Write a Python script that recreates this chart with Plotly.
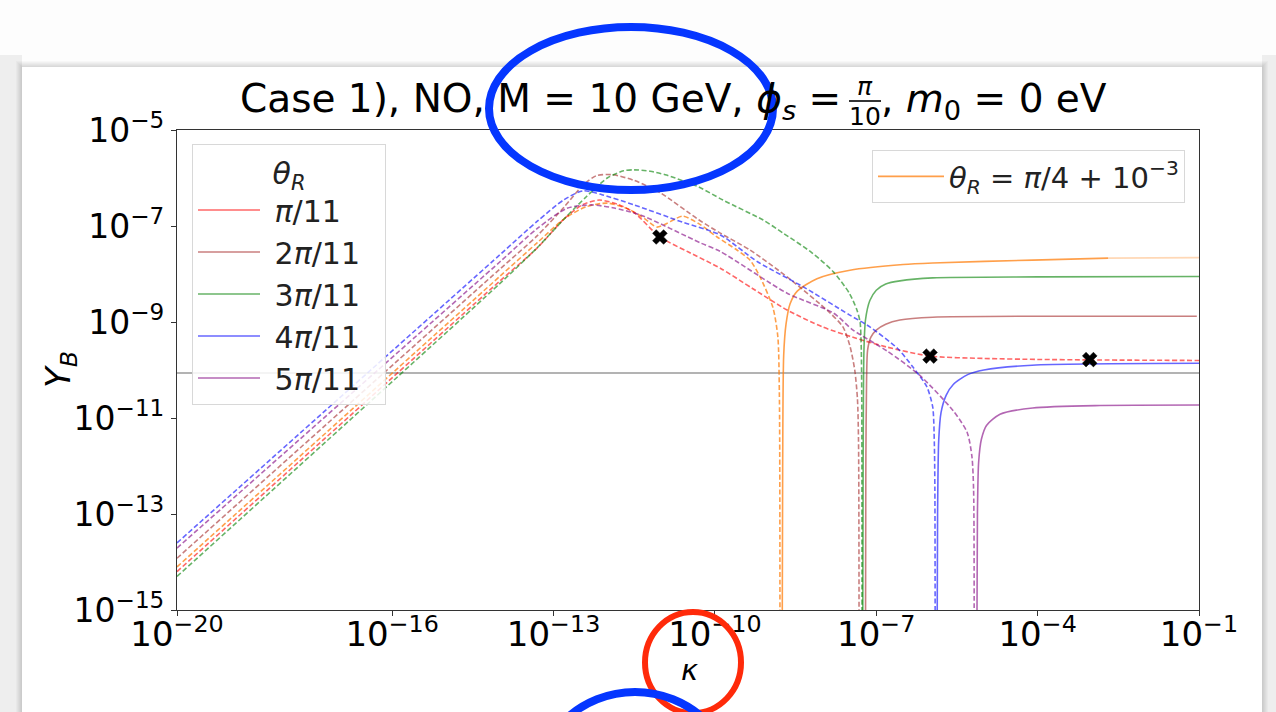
import plotly.graph_objects as go

# ---------------- data ----------------
NB = "\u00a0"
theta_labels = ["<i>π</i>/11", "2<i>π</i>/11", "3<i>π</i>/11", "4<i>π</i>/11", "5<i>π</i>/11"]
orange_label = "<i>θ</i><sub><i>R</i></sub> = <i>π</i>/4 + 10<sup>−3</sup>"

red_dash_k = [1e-20, 1e-14, 5.0e-14, 1.58e-13, 3.55e-13, 7.1e-13, 1.58e-12, 3.16e-12, 9.5e-12,
              3.16e-11, 1.26e-10, 5.0e-10, 2.2e-9, 1e-8, 3.7e-8, 1.58e-7, 1e-6, 1e-5, 1e-4, 1e-3, 0.1]
red_dash_y = [6.3e-15, 7.1e-9, 3.5e-8, 1.41e-7, 2.82e-7, 3.47e-7, 2.82e-7, 1.9e-7, 5.9e-8,
              2.9e-8, 1.32e-8, 5.0e-9, 1.78e-9, 7.9e-10, 4.8e-10, 3.0e-10, 1.95e-10, 1.74e-10, 1.66e-10, 1.62e-10, 1.58e-10]

brown_dash_k = [1e-20, 1e-14, 5.0e-14, 1.58e-13, 3.55e-13, 6.3e-13, 1.26e-12, 3.16e-12, 1e-11, 5.0e-11,
                1.26e-10, 4.5e-10, 2.2e-9, 1.38e-8, 2.4e-8, 3.24e-8, 3.98e-8, 4.47e-8, 4.68e-8, 4.79e-8]
brown_dash_y = [1.2e-14, 1.26e-8, 6.3e-8, 2.5e-7, 7.1e-7, 1.12e-6, 1.17e-6, 8.9e-7, 4.8e-7, 1.35e-7,
                7.1e-8, 3.16e-8, 8.7e-9, 1.55e-9, 7.9e-10, 3.16e-10, 1e-10, 2.5e-11, 3.16e-12, 1e-16]
brown_solid_k = [6.3e-8, 6.4e-8, 6.6e-8, 6.9e-8, 7.9e-8, 1.0e-7, 1.5e-7, 2.75e-7, 1.12e-6, 1e-4, 0.091]
brown_solid_y = [1e-16, 1e-12, 6.0e-11, 2.6e-10, 4.8e-10, 6.8e-10, 9.0e-10, 1.1e-9, 1.26e-9, 1.32e-9, 1.32e-9]

green_dash_k = [1e-20, 1e-14, 5.0e-14, 1.58e-13, 3.98e-13, 1e-12, 2.0e-12, 3.16e-12, 6.3e-12, 1.26e-11,
                5.0e-11, 1.41e-10, 7.9e-10, 1.86e-9, 6.3e-9, 1.58e-8, 3.16e-8, 4.37e-8, 5.0e-8, 5.25e-8,
                5.37e-8, 5.43e-8]
green_dash_y = [5.0e-15, 6.3e-9, 3.55e-8, 1.41e-7, 3.98e-7, 1e-6, 1.41e-6, 1.48e-6, 1.38e-6, 1.15e-6,
                6.5e-7, 3.47e-7, 1.33e-7, 7.1e-8, 2.8e-8, 1.12e-8, 3.98e-9, 1.78e-9, 1e-9, 3.16e-10,
                3.16e-11, 1e-16]
green_solid_k = [5.6e-8, 5.7e-8, 5.9e-8, 6.3e-8, 7.6e-8, 1.0e-7, 1.5e-7, 2.75e-7, 1.12e-6, 1e-4, 0.1]
green_solid_y = [1e-16, 1e-12, 2.5e-10, 1.1e-9, 2.8e-9, 4.6e-9, 6.2e-9, 7.2e-9, 8.3e-9, 8.7e-9, 8.9e-9]

blue_dash_k = [1e-20, 1e-14, 5.0e-14, 1.58e-13, 3.55e-13, 7.9e-13, 3.16e-12, 2.5e-11, 1.26e-10, 6.3e-10,
               4.4e-9, 3.16e-8, 7.6e-8, 2.5e-7, 4.8e-7, 8.7e-7, 1.12e-6, 1.2e-6, 1.23e-6, 1.245e-6]
blue_dash_y = [2.5e-14, 2.5e-8, 1.26e-7, 3.55e-7, 5.4e-7, 4.5e-7, 2.75e-7, 1.2e-7, 6.5e-8, 1.78e-8,
               5.4e-9, 1.41e-9, 7.9e-10, 2.8e-10, 1.15e-10, 4.5e-11, 1.7e-11, 3.16e-12, 3.16e-13, 1e-16]
blue_solid_k = [1.35e-6, 1.38e-6, 1.45e-6, 1.6e-6, 2.0e-6, 2.7e-6, 5.0e-6, 1e-5, 7.9e-5, 0.1]
blue_solid_y = [1e-16, 1e-13, 3.5e-12, 1.3e-11, 3.0e-11, 5.0e-11, 8.0e-11, 1.0e-10, 1.26e-10, 1.38e-10]

purple_dash_k = [1e-20, 1e-14, 5.0e-14, 1.78e-13, 5.0e-13, 1.26e-12, 4.1e-12, 5.25e-11, 1.26e-10, 2.2e-9,
                 1.58e-8, 3.7e-8, 1.58e-7, 6.3e-7, 2.7e-6, 4.9e-6, 6.0e-6, 6.45e-6, 6.6e-6]
purple_dash_y = [1.95e-14, 1.78e-8, 8.9e-8, 2.34e-7, 2.75e-7, 2.4e-7, 1.7e-7, 4.5e-8, 2.95e-8, 3.98e-9,
                 1.55e-9, 6.8e-10, 2.5e-10, 7.9e-11, 1.41e-11, 5.0e-12, 1.58e-12, 3.16e-13, 1e-16]
purple_solid_k = [7.4e-6, 7.6e-6, 8.0e-6, 9.0e-6, 1.12e-5, 2.0e-5, 8.1e-5, 1.45e-3, 0.1]
purple_solid_y = [1e-16, 1e-13, 1.2e-12, 3.6e-12, 7.0e-12, 1.2e-11, 1.62e-11, 1.82e-11, 1.86e-11]

orange_dash_k = [1e-20, 1e-14, 5.0e-14, 1.58e-13, 3.98e-13, 1e-12, 2.5e-12, 5.0e-12, 8.3e-12, 1.26e-11,
                 2.5e-11, 5.0e-11, 1.1e-10, 2.57e-10, 4.5e-10, 6.9e-10, 1.2e-9, 1.48e-9, 1.58e-9, 1.62e-9]
orange_dash_y = [7.9e-15, 8.9e-9, 4.5e-8, 1.41e-7, 2.5e-7, 3.0e-7, 2.24e-7, 1.41e-7, 9.5e-8, 1.12e-7,
                 1.6e-7, 1.12e-7, 5.9e-8, 3.16e-8, 1.95e-8, 8.7e-9, 2.0e-9, 4.9e-10, 3.16e-11, 1e-16]
orange_solid_k = [1.78e-9, 1.82e-9, 1.9e-9, 2.1e-9, 2.5e-9, 3.4e-9, 7.9e-9, 3.24e-8, 3.16e-7, 1.12e-6, 8.1e-5, 2.04e-3]
orange_solid_y = [1e-16, 1e-12, 2.0e-10, 9.0e-10, 2.4e-9, 4.4e-9, 8.0e-9, 1.2e-8, 1.58e-8, 1.7e-8, 1.95e-8, 2.14e-8]
orange_tail_k = [2.04e-3, 0.1]
orange_tail_y = [2.14e-8, 2.19e-8]

marker_k = [9.5e-12, 1e-6, 9.3e-4]
marker_y = [5.9e-8, 1.95e-10, 1.65e-10]

Y_B_obs = 8.7e-11

x_tick_vals = [1e-20, 1e-16, 1e-13, 1e-10, 1e-7, 1e-4, 1e-1]
x_tick_text = ["10<sup>−20</sup>", "10<sup>−16</sup>", "10<sup>−13</sup>", "10<sup>−10</sup>",
               "10<sup>−7</sup>", "10<sup>−4</sup>", "10<sup>−1</sup>"]
y_tick_vals = [1e-15, 1e-13, 1e-11, 1e-9, 1e-7, 1e-5]
y_tick_text = ["10<sup>−15</sup>", "10<sup>−13</sup>", "10<sup>−11</sup>", "10<sup>−9</sup>",
               "10<sup>−7</sup>", "10<sup>−5</sup>"]

# ---------------- styling ----------------
W, H = 1276, 712
L, R, T, B = 177, 77, 130, 102
PW, PH = W - L - R, H - T - B
FONT = "DejaVu Sans"


def px(x):
    return (x - L) / PW


def py(y):
    return (H - B - y) / PH


dash_pat = "5px,2.5px"
cols = {
    "red": "rgba(255,0,0,0.6)",
    "brown": "rgba(165,42,42,0.6)",
    "green": "rgba(0,128,0,0.6)",
    "blue": "rgba(0,0,255,0.6)",
    "purple": "rgba(128,0,128,0.6)",
    "orange": "rgba(255,127,14,0.75)",
}
SM = 0.7

fig = go.Figure()

series = [
    ("red", red_dash_k, red_dash_y, None, None, theta_labels[0]),
    ("brown", brown_dash_k, brown_dash_y, brown_solid_k, brown_solid_y, theta_labels[1]),
    ("green", green_dash_k, green_dash_y, green_solid_k, green_solid_y, theta_labels[2]),
    ("blue", blue_dash_k, blue_dash_y, blue_solid_k, blue_solid_y, theta_labels[3]),
    ("purple", purple_dash_k, purple_dash_y, purple_solid_k, purple_solid_y, theta_labels[4]),
]

fig.add_trace(go.Scatter(x=orange_dash_k, y=orange_dash_y, mode="lines",
                         line=dict(color=cols["orange"], width=1.6, dash=dash_pat, shape="spline", smoothing=SM),
                         showlegend=False, hoverinfo="skip"))
fig.add_trace(go.Scatter(x=orange_solid_k, y=orange_solid_y, mode="lines", name=orange_label,
                         line=dict(color=cols["orange"], width=1.6, shape="spline", smoothing=SM),
                         legend="legend2"))
fig.add_trace(go.Scatter(x=orange_tail_k, y=orange_tail_y, mode="lines",
                         line=dict(color="rgba(255,127,14,0.3)", width=1.6),
                         showlegend=False, hoverinfo="skip"))

for cname, dk, dy, sk, sy, lab in series:
    fig.add_trace(go.Scatter(x=dk, y=dy, mode="lines", legendgroup=cname,
                             line=dict(color=cols[cname], width=1.6, dash=dash_pat, shape="spline", smoothing=SM),
                             showlegend=False))
    if sk is not None:
        fig.add_trace(go.Scatter(x=sk, y=sy, mode="lines", legendgroup=cname,
                                 line=dict(color=cols[cname], width=1.6, shape="spline", smoothing=SM),
                                 showlegend=False))
    fig.add_trace(go.Scatter(x=[None], y=[None], mode="lines", name=NB + lab + NB * 2, legendgroup=cname,
                             line=dict(color=cols[cname], width=1.6), legend="legend"))

fig.add_trace(go.Scatter(x=marker_k, y=marker_y, mode="markers",
                         marker=dict(symbol="x", size=13, color="black",
                                     line=dict(color="black", width=0.5)),
                         showlegend=False))

shapes = []
# page shadow + card
shapes.append(dict(type="rect", xref="paper", yref="paper", x0=px(-5), x1=px(22), y0=py(720), y1=py(55),
                   fillcolor="#eeeeee", line=dict(width=0), layer="below"))
shapes.append(dict(type="rect", xref="paper", yref="paper", x0=px(1262), x1=px(1285), y0=py(720), y1=py(55),
                   fillcolor="#eeeeee", line=dict(width=0), layer="below"))
for i in range(6):
    d = 6 - i
    shapes.append(dict(type="rect", xref="paper", yref="paper",
                       x0=px(22 - d), x1=px(1262 + d), y0=py(740), y1=py(67 - d),
                       fillcolor="rgba(0,0,0,0.025)", line=dict(width=0), layer="below"))
shapes.append(dict(type="rect", xref="paper", yref="paper", x0=px(22), x1=px(1262), y0=py(740), y1=py(67),
                   fillcolor="white", line=dict(width=0), layer="below"))
shapes.append(dict(type="line", xref="paper", yref="y", x0=0, x1=1, y0=Y_B_obs, y1=Y_B_obs,
                   line=dict(color="rgba(128,128,128,0.6)", width=2), layer="below"))
# hand-drawn ellipses
shapes.append(dict(type="circle", xref="paper", yref="paper", x0=px(489), x1=px(773), y0=py(190), y1=py(27),
                   line=dict(color="#0536ff", width=8), layer="above"))
shapes.append(dict(type="circle", xref="paper", yref="paper", x0=px(645), x1=px(741), y0=py(713), y1=py(612),
                   line=dict(color="#ff2a0a", width=6), layer="above"))
shapes.append(dict(type="circle", xref="paper", yref="paper", x0=px(532), x1=px(738), y0=py(900), y1=py(692),
                   line=dict(color="#0536ff", width=8), layer="above"))
shapes.append(dict(type="line", xref="paper", yref="paper", x0=px(849), x1=px(881), y0=py(101), y1=py(101),
                   line=dict(color="black", width=1.6), layer="above"))

annotations = [
    dict(text="Case 1), NO, M = 10 GeV, <i>ϕ</i><sub><i>s</i></sub> =", x=px(843), y=py(101),
         xref="paper", yref="paper", xanchor="right", yanchor="middle", showarrow=False,
         font=dict(family=FONT, size=39, color="black")),
    dict(text="<i>π</i>", x=px(865), y=py(86), xref="paper", yref="paper", xanchor="center",
         yanchor="middle", showarrow=False, font=dict(family=FONT, size=25, color="black")),
    dict(text="10", x=px(865), y=py(116), xref="paper", yref="paper", xanchor="center",
         yanchor="middle", showarrow=False, font=dict(family=FONT, size=25, color="black")),
    dict(text=", <i>m</i><sub>0</sub> = 0 eV", x=px(879), y=py(101),
         xref="paper", yref="paper", xanchor="left", yanchor="middle", showarrow=False,
         font=dict(family=FONT, size=39, color="black")),
    dict(text="<i>Y</i><sub><i>B</i></sub>", x=px(60), y=py(370), xref="paper", yref="paper",
         xanchor="center", yanchor="middle",
         textangle=-90, showarrow=False, font=dict(family=FONT, size=34, color="black")),
    dict(text="<i>κ</i>", x=px(689), y=py(670), xref="paper", yref="paper",
         xanchor="center", yanchor="middle",
         showarrow=False, font=dict(family=FONT, size=29, color="black")),
]

axis_common = dict(showgrid=False, zeroline=False, showline=True, mirror=True, linecolor="#333",
                   linewidth=1.2, ticks="outside", ticklen=5, tickwidth=1, tickcolor="#333")

fig.update_layout(
    width=W, height=H,
    margin=dict(l=L, r=R, t=T, b=B),
    paper_bgcolor="#fdfdfd", plot_bgcolor="white",
    font=dict(family=FONT, color="black"),
    xaxis=dict(type="log", range=[-20, -1], tickvals=x_tick_vals, ticktext=x_tick_text,
               tickfont=dict(family=FONT, size=34, color="black"), ticklabelstandoff=-11, **axis_common),
    yaxis=dict(type="log", range=[-15, -5], tickvals=y_tick_vals, ticktext=y_tick_text,
               tickfont=dict(family=FONT, size=33, color="black"), **axis_common),
    shapes=shapes,
    annotations=annotations,
    legend=dict(x=px(192), y=py(144), xanchor="left", yanchor="top",
                bgcolor="rgba(255,255,255,0.85)", bordercolor="#d8d8d8", borderwidth=1,
                font=dict(family=FONT, size=30, color="#222"), tracegroupgap=0,
                title=dict(text="<i>θ</i><sub><i>R</i></sub>", side="top center",
                           font=dict(family=FONT, size=30, color="#222")),
                itemwidth=62),
    legend2=dict(x=px(1185), y=py(150), xanchor="right", yanchor="top",
                 bgcolor="rgba(255,255,255,0.85)", bordercolor="#d8d8d8", borderwidth=1,
                 font=dict(family=FONT, size=29, color="#222"), itemwidth=66),
    showlegend=True,
)

fig.write_html("out.html", config={"displayModeBar": False},
               post_script="document.body.style.margin='0px';")
